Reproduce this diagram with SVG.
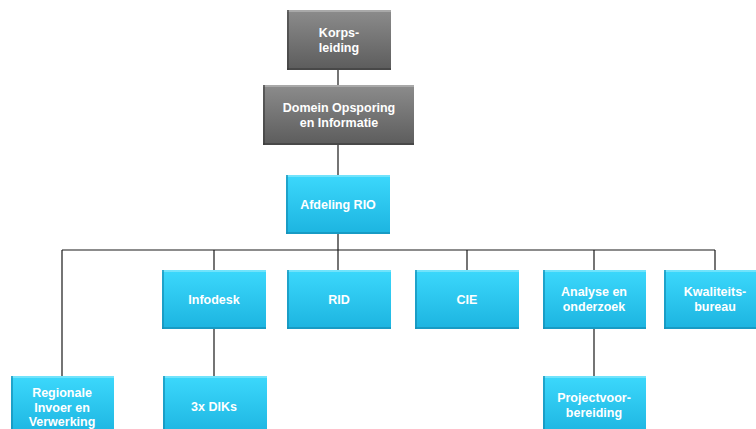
<svg xmlns="http://www.w3.org/2000/svg" width="756" height="429" viewBox="0 0 756 429">
  <style>
    .lbl { font-family: "Liberation Sans", Arial, sans-serif; font-size: 12.5px; font-weight: bold; fill: #ffffff; text-anchor: middle; }
    .wire { stroke: #1a1a1a; stroke-width: 1.2; fill: none; }
    .cyan { fill: url(#gCyan); }
    .grey { fill: url(#gGrey); }
    .hiC { fill: #7fe6fb; opacity: 0.8; }
    .loC { fill: #1590b8; opacity: 0.7; }
    .hiG { fill: #b0b0b0; opacity: 0.8; }
    .loG { fill: #3a3a3a; opacity: 0.6; }
  </style>
  <defs>
    <linearGradient id="gCyan" x1="0" y1="0" x2="0" y2="1">
      <stop offset="0" stop-color="#3cd8fc"/>
      <stop offset="1" stop-color="#1cb4e0"/>
    </linearGradient>
    <linearGradient id="gGrey" x1="0" y1="0" x2="0" y2="1">
      <stop offset="0" stop-color="#8c8c8c"/>
      <stop offset="1" stop-color="#5c5c5c"/>
    </linearGradient>
  </defs>

  <!-- connectors -->
  <g id="connectors">
    <path class="wire" d="M338,70 V85 M338,145 V175 M338,234 V250"/>
    <path class="wire" d="M62,250 H715"/>
    <path class="wire" d="M62,250 V376 M214,250 V270 M338,250 V270 M467,250 V270 M594,250 V270 M715,250 V270"/>
    <path class="wire" d="M214,329 V376 M594,329 V376"/>
  </g>

  <!-- Korpsleiding -->
  <g id="korpsleiding">
    <rect class="grey" x="287" y="10" width="104" height="60"/>
    <rect class="hiG" x="287" y="10" width="104" height="2"/>
    <rect class="loG" x="287" y="10" width="2" height="60"/>
    <rect class="loG" x="287" y="68" width="104" height="2"/>
    <text class="lbl" x="339" y="37">Korps-</text>
    <text class="lbl" x="339" y="52">leiding</text>
  </g>

  <!-- Domein Opsporing en Informatie -->
  <g id="domein">
    <rect class="grey" x="263" y="85" width="151" height="60"/>
    <rect class="hiG" x="263" y="85" width="151" height="2"/>
    <rect class="loG" x="263" y="85" width="2" height="60"/>
    <rect class="loG" x="263" y="143" width="151" height="2"/>
    <text class="lbl" x="339" y="112">Domein Opsporing</text>
    <text class="lbl" x="339" y="127">en Informatie</text>
  </g>

  <!-- Afdeling RIO -->
  <g id="afdeling-rio">
    <rect class="cyan" x="286" y="175" width="104" height="59"/>
    <rect class="hiC" x="286" y="175" width="104" height="2"/>
    <rect class="loC" x="286" y="175" width="2" height="59"/>
    <rect class="loC" x="286" y="232" width="104" height="2"/>
    <text class="lbl" x="338" y="209">Afdeling RIO</text>
  </g>

  <!-- Infodesk -->
  <g id="infodesk">
    <rect class="cyan" x="162" y="270" width="104" height="59"/>
    <rect class="hiC" x="162" y="270" width="104" height="2"/>
    <rect class="loC" x="162" y="270" width="2" height="59"/>
    <rect class="loC" x="162" y="327" width="104" height="2"/>
    <text class="lbl" x="214" y="304">Infodesk</text>
  </g>

  <!-- RID -->
  <g id="rid">
    <rect class="cyan" x="287" y="270" width="104" height="59"/>
    <rect class="hiC" x="287" y="270" width="104" height="2"/>
    <rect class="loC" x="287" y="270" width="2" height="59"/>
    <rect class="loC" x="287" y="327" width="104" height="2"/>
    <text class="lbl" x="339" y="304">RID</text>
  </g>

  <!-- CIE -->
  <g id="cie">
    <rect class="cyan" x="415" y="270" width="104" height="59"/>
    <rect class="hiC" x="415" y="270" width="104" height="2"/>
    <rect class="loC" x="415" y="270" width="2" height="59"/>
    <rect class="loC" x="415" y="327" width="104" height="2"/>
    <text class="lbl" x="467" y="304">CIE</text>
  </g>

  <!-- Analyse en onderzoek -->
  <g id="analyse">
    <rect class="cyan" x="543" y="270" width="103" height="59"/>
    <rect class="hiC" x="543" y="270" width="103" height="2"/>
    <rect class="loC" x="543" y="270" width="2" height="59"/>
    <rect class="loC" x="543" y="327" width="103" height="2"/>
    <text class="lbl" x="594" y="296">Analyse en</text>
    <text class="lbl" x="594" y="311">onderzoek</text>
  </g>

  <!-- Kwaliteitsbureau -->
  <g id="kwaliteitsbureau">
    <rect class="cyan" x="664" y="270" width="104" height="59"/>
    <rect class="hiC" x="664" y="270" width="104" height="2"/>
    <rect class="loC" x="664" y="270" width="2" height="59"/>
    <rect class="loC" x="664" y="327" width="104" height="2"/>
    <text class="lbl" x="715" y="296">Kwaliteits-</text>
    <text class="lbl" x="715" y="311">bureau</text>
  </g>

  <!-- Regionale Invoer en Verwerking -->
  <g id="regionale">
    <rect class="cyan" x="11" y="376" width="103" height="60"/>
    <rect class="hiC" x="11" y="376" width="103" height="2"/>
    <rect class="loC" x="11" y="376" width="2" height="60"/>
    <text class="lbl" x="62" y="397">Regionale</text>
    <text class="lbl" x="62" y="412">Invoer en</text>
    <text class="lbl" x="62" y="426">Verwerking</text>
  </g>

  <!-- 3x DIKs -->
  <g id="diks">
    <rect class="cyan" x="163" y="376" width="104" height="60"/>
    <rect class="hiC" x="163" y="376" width="104" height="2"/>
    <rect class="loC" x="163" y="376" width="2" height="60"/>
    <text class="lbl" x="214" y="411">3x DIKs</text>
  </g>

  <!-- Projectvoorbereiding -->
  <g id="projectvoorbereiding">
    <rect class="cyan" x="543" y="376" width="103" height="60"/>
    <rect class="hiC" x="543" y="376" width="103" height="2"/>
    <rect class="loC" x="543" y="376" width="2" height="60"/>
    <text class="lbl" x="594" y="402">Projectvoor-</text>
    <text class="lbl" x="594" y="417">bereiding</text>
  </g>
</svg>
